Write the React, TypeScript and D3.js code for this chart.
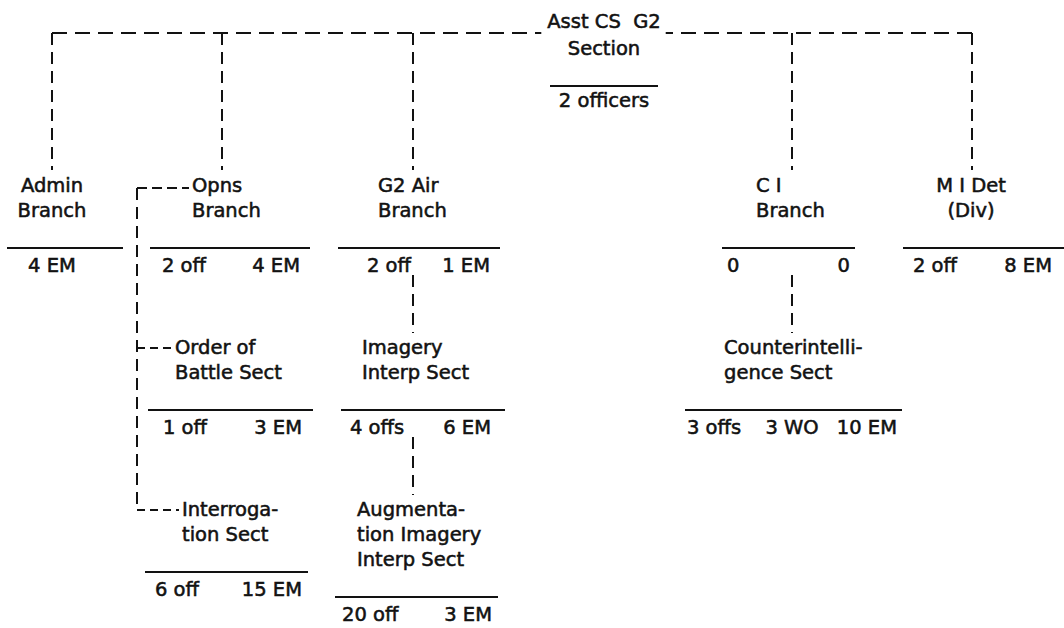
import React, { useEffect, useRef } from "react";
import * as d3 from "d3";

// Units of the G2 section, in drawing order
const units = ["g2", "admin", "opns", "air", "ci", "mi", "ob", "interr", "imagery", "augment", "cisect"];

// Printed label of each unit (one entry per line)
const unitLabels = [
  ["Asst CS  G2", "Section"],
  ["Admin", "Branch"],
  ["Opns", "Branch"],
  ["G2 Air", "Branch"],
  ["C I", "Branch"],
  ["M I Det", "(Div)"],
  ["Order of", "Battle Sect"],
  ["Interroga-", "tion Sect"],
  ["Imagery", "Interp Sect"],
  ["Augmenta-", "tion Imagery", "Interp Sect"],
  ["Counterintelli-", "gence Sect"],
];

// Who each unit reports to
const unitParents = [null, "g2", "g2", "g2", "g2", "g2", "opns", "opns", "air", "imagery", "ci"];

// Authorized strength printed under the rule
const unitStrength = [
  ["2 officers"],
  ["4 EM"],
  ["2 off", "4 EM"],
  ["2 off", "1 EM"],
  ["0", "0"],
  ["2 off", "8 EM"],
  ["1 off", "3 EM"],
  ["6 off", "15 EM"],
  ["4 offs", "6 EM"],
  ["20 off", "3 EM"],
  ["3 offs", "3 WO", "10 EM"],
];

// Level of each unit in the chart
const unitTier = [0, 1, 1, 1, 1, 1, 2, 3, 2, 3, 2];

type Layout = {
  tx: number;
  anchor: "start" | "middle";
  rule: [number, number];
  pad: [number, number];
  col?: number;
  link?: "drop" | "elbow";
};

// Page layout (positions only)
const layout: Record<string, Layout> = {
  g2: { tx: 604, anchor: "middle", rule: [550, 658], pad: [0, 0] },
  admin: { tx: 52, anchor: "middle", rule: [7, 123], pad: [0, 0], col: 52, link: "drop" },
  opns: { tx: 192, anchor: "start", rule: [150, 310], pad: [12, 10], col: 222, link: "drop" },
  air: { tx: 378, anchor: "start", rule: [338, 500], pad: [29, 10], col: 413, link: "drop" },
  ci: { tx: 756, anchor: "start", rule: [722, 855], pad: [5, 5], col: 792, link: "drop" },
  mi: { tx: 971, anchor: "middle", rule: [903, 1064], pad: [10, 12], col: 972, link: "drop" },
  ob: { tx: 175, anchor: "start", rule: [148, 313], pad: [15, 11], link: "elbow" },
  interr: { tx: 182, anchor: "start", rule: [145, 308], pad: [10, 6], link: "elbow" },
  imagery: { tx: 362, anchor: "start", rule: [341, 505], pad: [9, 14], col: 413, link: "drop" },
  augment: { tx: 357, anchor: "start", rule: [335, 498], pad: [7, 6], col: 413, link: "drop" },
  cisect: { tx: 724, anchor: "start", rule: [685, 902], pad: [2, 5], col: 792, link: "drop" },
};

const INK = "#121212";
const FONT = "'DejaVu Sans', sans-serif";

export default function App() {
  const svgRef = useRef<SVGSVGElement>(null);

  useEffect(() => {
    if (!svgRef.current) return;
    const svg = d3.select(svgRef.current);
    svg.selectAll("*").remove();

    const width = 1064;
    const height = 628;
    const lineGap = 25;
    const busY = 33;
    const trunkX = 137;

    svg.append("rect").attr("width", width).attr("height", height).attr("fill", "#fff");

    // first-line baseline of each level
    const tierY = d3.scaleOrdinal<number, number>().domain([0, 1, 2, 3]).range([28, 192, 354, 516]);

    const g = svg.append("g");
    const nodes = units.map((id, i) => {
      const base = tierY(unitTier[i]);
      const lines = unitLabels[i];
      const gap = i === 0 ? 27 : lineGap;
      const last = base + gap * (lines.length - 1);
      return {
        id,
        i,
        base,
        gap,
        lines,
        ruleY: last + 31,
        countY: last + 31 + (i === 0 ? 21 : 24),
        parent: unitParents[i],
        L: layout[id],
      };
    });
    const byId = new Map(nodes.map((n) => [n.id, n]));

    const dashed = (
      x1: number,
      y1: number,
      x2: number,
      y2: number,
      dash: string
    ) =>
      g.append("line")
        .attr("x1", x1)
        .attr("y1", y1)
        .attr("x2", x2)
        .attr("y2", y2)
        .attr("stroke", INK)
        .attr("stroke-width", 2)
        .attr("stroke-dasharray", dash);

    const label = (x: number, y: number, anchor: string, t: string) =>
      g.append("text")
        .attr("x", x)
        .attr("y", y)
        .attr("text-anchor", anchor)
        .attr("fill", INK)
        .attr("stroke", INK)
        .attr("stroke-width", 0.55)
        .style("font-family", FONT)
        .style("font-size", "19.5px")
        .style("white-space", "pre")
        .text(t);

    // Labels, rules and strengths
    nodes.forEach((n) => {
      n.lines.forEach((t, k) => {
        label(n.L.tx, n.base + n.gap * k, n.L.anchor, t)
          .attr("class", k === 0 && n.i === 0 ? "title" : null);
      });

      g.append("line")
        .attr("x1", n.L.rule[0])
        .attr("x2", n.L.rule[1])
        .attr("y1", n.ruleY)
        .attr("y2", n.ruleY)
        .attr("stroke", INK)
        .attr("stroke-width", 2.2);

      const counts = unitStrength[n.i];
      const xc = d3
        .scalePoint<number>()
        .domain(d3.range(counts.length))
        .range([n.L.rule[0] + n.L.pad[0], n.L.rule[1] - n.L.pad[1]]);
      counts.forEach((c, k) => {
        const single = counts.length === 1;
        const anchor = single ? "middle" : k === 0 ? "start" : k === counts.length - 1 ? "end" : "middle";
        label(single ? n.L.tx : (xc(k) as number), n.countY, anchor, c);
      });
    });

    // Top bus, broken around the section title
    const root = nodes[0];
    const titleNode = g.select<SVGTextElement>("text.title").node();
    const bb = titleNode ? titleNode.getBBox() : { x: 543, width: 122 };
    const branches = nodes.filter((n) => n.parent === root.id);
    const cols = branches.map((n) => n.L.col as number);
    dashed(d3.min(cols) as number, busY, bb.x - 6, busY, "15,8");
    dashed(d3.max(cols) as number, busY, bb.x + bb.width + 5, busY, "15,8");

    // Links
    nodes.forEach((n) => {
      if (!n.parent) return;
      const p = byId.get(n.parent)!;
      if (n.parent === root.id) {
        dashed(n.L.col as number, busY, n.L.col as number, n.base - 22, "12,7");
      } else if (n.L.link === "drop") {
        dashed(n.L.col as number, p.countY + 3, n.L.col as number, n.base - 21, "12,7");
      } else {
        const y = n.base - 6;
        dashed(trunkX, y, n.L.tx - 3, y, "8,5");
      }
    });

    // Elbow trunk for the Opns sections
    const elbowKids = nodes.filter((n) => n.L.link === "elbow");
    if (elbowKids.length) {
      const p = byId.get(elbowKids[0].parent as string)!;
      const top = p.base - 4;
      const bottom = (d3.max(elbowKids, (n) => n.base) as number) - 6;
      dashed(trunkX, top, p.L.tx - 3, top, "10,5");
      dashed(trunkX, top, trunkX, bottom, "12,7");
    }
  }, []);

  return (
    <svg
      ref={svgRef}
      width={1064}
      height={628}
      style={{ display: "block", position: "absolute", left: 0, top: 0 }}
    />
  );
}
